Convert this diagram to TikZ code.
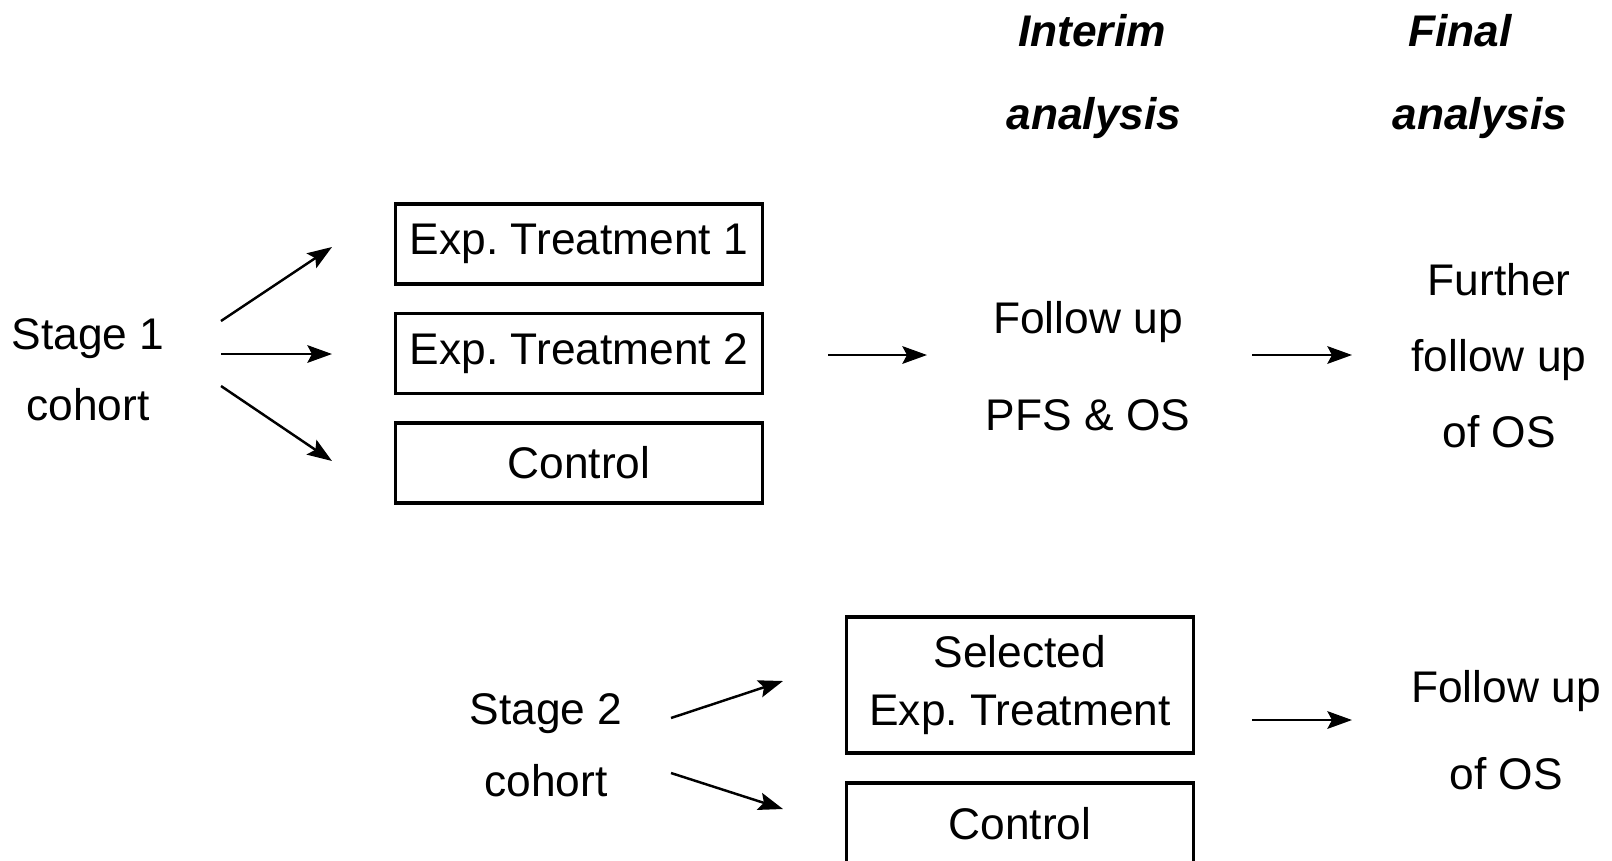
\documentclass[tikz,border=0pt]{standalone}
\usepackage{fontspec}
\setmainfont{Liberation Sans}
\usetikzlibrary{arrows.meta}
\begin{document}
\begin{tikzpicture}[x=0.01cm,y=-0.01cm]
  \tikzstyle{every node}=[font=\fontsize{12.6}{15}\selectfont,inner sep=0pt]
  \tikzstyle{box}=[draw,line width=0.9pt,minimum width=3.67cm,minimum height=0.8cm]
  \tikzstyle{head}=[font=\fontsize{12.6}{15}\selectfont\bfseries\itshape]
  \tikzstyle{arr}=[line width=0.7pt,-{Stealth[length=7pt,width=5pt,inset=1.3pt]}]
  \clip (0,0) rectangle (1612,860);
  \node[head] (int1) at (1092,31) {Interim};
  \node[head] (int2) at (1094,118) {analysis};
  \node[head] (fa1) at (1460,31) {Final};
  \node[head] (fa2) at (1480,118) {analysis};
  \node[align=center] (s1) at (88,370) {Stage 1\\[5.2pt]cohort};
  \node[box] (et1) at (579,244) {Exp.\ Treatment 1};
  \node[box] (et2) at (579,353.5) {Exp.\ Treatment 2};
  \node[box] (ct1) at (579,463) {Control};
  \node[align=center] (fu1) at (1088,366) {Follow up\\[12.6pt]PFS \& OS};
  \node[align=center] (fin1) at (1499,356) {Further\\[6.6pt]follow up\\[6.6pt]of OS};
  \node[align=center] (s2) at (546,745) {Stage 2\\[5.5pt]cohort};
  \node[box,minimum width=3.46cm,minimum height=1.36cm,align=center] (sel) at (1020,685)
    {Selected\\[1.5pt]Exp.\ Treatment};
  \node[box,minimum width=3.46cm,minimum height=0.82cm] (ct2) at (1020,824) {Control};
  \node[align=center] (fin2) at (1506,730) {Follow up\\[9.8pt]of OS};
  \coordinate (a1s) at (221,321); \coordinate (a1e) at (332,247);
  \coordinate (a2s) at (221,354); \coordinate (a2e) at (332,354);
  \coordinate (a3s) at (221,386); \coordinate (a3e) at (332,461);
  \coordinate (a4s) at (828,355); \coordinate (a4e) at (927,355);
  \coordinate (a5s) at (1252,355); \coordinate (a5e) at (1352,355);
  \coordinate (b1s) at (671,718); \coordinate (b1e) at (783,681);
  \coordinate (b2s) at (671,773); \coordinate (b2e) at (783,809);
  \coordinate (b3s) at (1252,720); \coordinate (b3e) at (1352,720);
  \draw[arr] (a1s) -- (a1e);
  \draw[arr] (a2s) -- (a2e);
  \draw[arr] (a3s) -- (a3e);
  \draw[arr] (a4s) -- (a4e);
  \draw[arr] (a5s) -- (a5e);
  \draw[arr] (b1s) -- (b1e);
  \draw[arr] (b2s) -- (b2e);
  \draw[arr] (b3s) -- (b3e);
\end{tikzpicture}
\end{document}
